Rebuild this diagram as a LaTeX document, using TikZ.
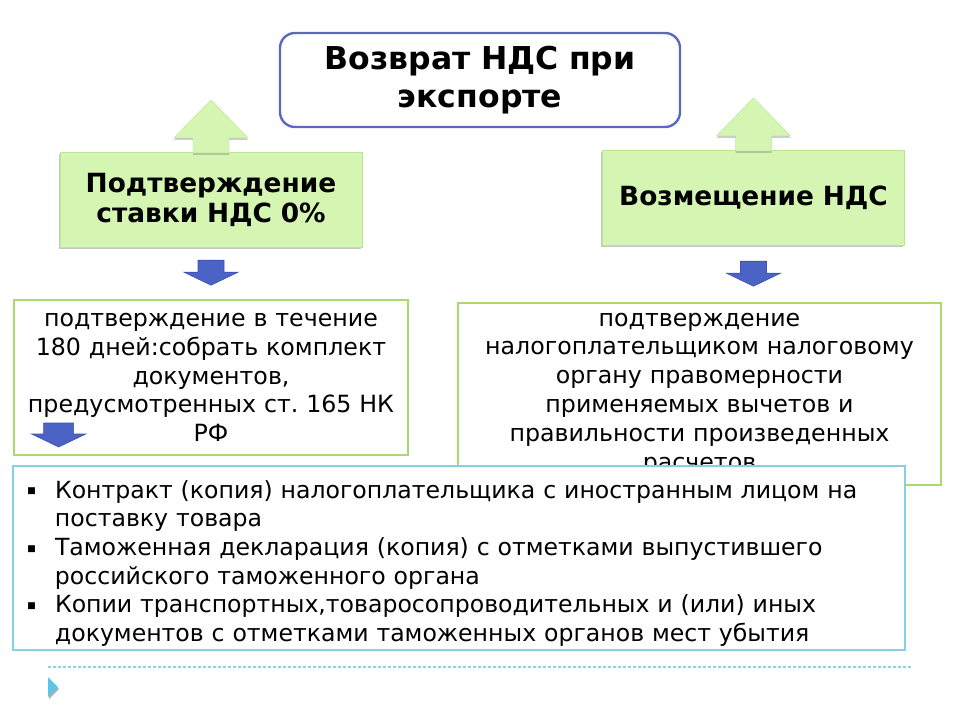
\documentclass[tikz,border=0pt]{standalone}
\usepackage{fontspec}
\setmainfont{DejaVu Sans}
\usepackage{enumitem}
\usetikzlibrary{shadows}

\definecolor{titleblue}{HTML}{5A69BC}
\definecolor{greenfill}{HTML}{D4F6B2}
\definecolor{greenedge}{HTML}{BDE596}
\definecolor{boxgreen}{HTML}{A9DA70}
\definecolor{boxcyan}{HTML}{86D0E3}
\definecolor{arrowblue}{HTML}{4A63C5}
\definecolor{arrowedge}{HTML}{3A52B0}
\definecolor{dashcyan}{HTML}{8FD2E2}
\definecolor{tricyan}{HTML}{5CC6EA}

\newcommand{\greenup}{% up arrow, origin at the top of the box
  \filldraw[greenarrow] (0,-52) -- (37,-14) -- (18,-14) -- (18,1) -- (-18,1)
    -- (-18,-14) -- (-37,-14) -- cycle;}
\newcommand{\bluedown}{% down arrow, origin at the top of the shaft
  \filldraw[bluearrow] (-13,0) -- (13,0) -- (13,12) -- (27,12) -- (0,25)
    -- (-27,12) -- (-13,12) -- cycle;}

\begin{document}
\frenchspacing
\begin{tikzpicture}[x=1pt,y=-1pt,
  titlebox/.style={draw=titleblue, line width=2.4pt, rounded corners=15pt,
    fill=white, align=center, minimum width=400pt, minimum height=94pt,
    text width=385pt, font=\fontsize{31.5}{38}\selectfont\bfseries},
  greenbox/.style={draw=greenedge, fill=greenfill, align=center,
    minimum width=302pt, minimum height=95pt, text width=292pt,
    drop shadow={shadow xshift=-1.5pt, shadow yshift=-2pt, opacity=.45},
    font=\fontsize{26.4}{30}\selectfont\bfseries},
  textbox/.style={draw=boxgreen, line width=2pt, fill=white, align=center,
    font=\fontsize{23.7}{28.8}\selectfont},
  listbox/.style={draw=boxcyan, line width=2.2pt, fill=white,
    font=\fontsize{23.6}{28.6}\selectfont},
  greenarrow/.style={draw=greenedge, fill=greenfill,
    drop shadow={shadow xshift=0pt, shadow yshift=-2pt, opacity=.4}},
  bluearrow/.style={draw=arrowedge, fill=arrowblue, line width=.6pt}]
\useasboundingbox (0,0) rectangle (960,720);

% title
\node[titlebox] (title) at (480,80) {Возврат НДС при\\экспорте};

% the two branches
\node[greenbox] (confirm) at (211,199.5) {Подтверждение\\ставки НДС 0\%};
\node[greenbox] (refund) at (753.5,197.5) {Возмещение НДС};
\begin{scope}[shift={(confirm.north)}] \greenup \end{scope}
\begin{scope}[shift={(refund.north)}] \greenup \end{scope}
\begin{scope}[shift={(confirm.south)}, yshift=-13pt] \bluedown \end{scope}
\begin{scope}[shift={(refund.south)}, yshift=-16pt] \bluedown \end{scope}

% explanations
\node[textbox, minimum width=394pt, minimum height=155pt, text width=388pt]
  (confirmtext) at (211,377.5)
  {подтверждение в течение\\180 дней:собрать комплект\\документов,\\
   предусмотренных ст. 165 НК\\РФ};
\node[textbox, minimum width=483pt, minimum height=182pt, text width=475pt]
  (refundtext) at (699.5,394)
  {подтверждение\\налогоплательщиком налоговому\\органу правомерности\\
   применяемых вычетов и\\правильности произведенных\\расчетов};
\begin{scope}[shift={(confirmtext.south west)}, xshift=46pt, yshift=33pt]
  \filldraw[bluearrow] (-15,0) -- (15,0) -- (15,11) -- (27,11) -- (0,24)
    -- (-27,11) -- (-15,11) -- cycle;
\end{scope}

% documents
\node[listbox, minimum width=892pt, minimum height=184pt, text width=880pt,
  inner xsep=6pt] (doclist) at (459,558) {%
  \begin{itemize}[label={\raisebox{.35ex}{\fontsize{9}{9}\selectfont■}},
    leftmargin=36pt, labelsep=19pt, itemsep=0pt, topsep=0pt, parsep=0pt,
    partopsep=0pt]
  \item Контракт (копия) налогоплательщика с иностранным лицом на\\
        поставку товара
  \item Таможенная декларация (копия) с отметками выпустившего\\
        российского таможенного органа
  \item Копии транспортных,товаросопроводительных и (или) иных\\
        документов с отметками таможенных органов мест убытия
  \end{itemize}};

% footer
\coordinate (rulestart) at (48,667);
\coordinate (ruleend) at (912,667);
\draw[dashcyan, line width=1.2pt, dash pattern=on 3pt off 2pt] (rulestart) -- (ruleend);
\fill[gray!60] (49,679) -- (59,689) -- (49,699) -- cycle;
\fill[tricyan] (48,677) -- (58,687) -- (48,697) -- cycle;
\end{tikzpicture}
\end{document}
